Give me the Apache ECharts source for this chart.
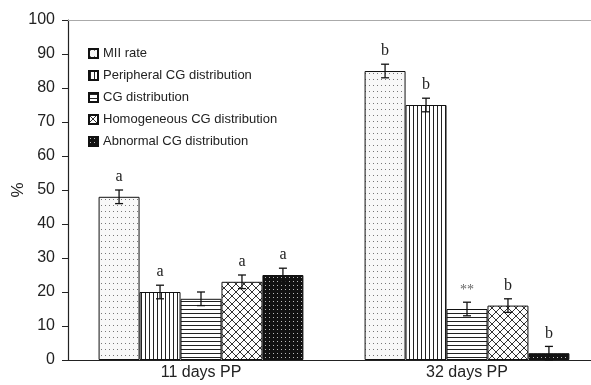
<!DOCTYPE html>
<html>
<head>
    <meta charset="utf-8">
    <title>CG distribution</title>
    <script src="https://cdnjs.cloudflare.com/ajax/libs/echarts/6.0.0/echarts.min.js"></script>
</head>
<body style="margin:0">
<div id="main" style="width: 591px;height: 385px"></div>

<script>
    // data
    let categories = ['11 days PP', '32 days PP'];
    let seriesNames = ['MII rate', 'Peripheral CG distribution', 'CG distribution',
        'Homogeneous CG distribution', 'Abnormal CG distribution'];
    let miiRate = [48, 85];
    let peripheral = [20, 75];
    let cgDist = [18, 15];
    let homogeneous = [23, 16];
    let abnormal = [25, 2];
    let errors = [[2, 2], [2, 2], [2, 2], [2, 2], [2, 2]];
    let letters = [['a', 'b'], ['a', 'b'], ['', '**'], ['a', 'b'], ['a', 'b']];
    let yTicks = [0, 100, 10];

    let values = [miiRate, peripheral, cgDist, homogeneous, abnormal];

    // fill patterns like the printed figure
    function makePattern(w, h, bg, draw) {
        let c = document.createElement('canvas');
        c.width = w;
        c.height = h;
        let ctx = c.getContext('2d');
        ctx.fillStyle = bg;
        ctx.fillRect(0, 0, w, h);
        draw(ctx);
        return {image: c, repeat: 'repeat'};
    }

    let patterns = [
        makePattern(4, 6, '#f8f8f8', function (ctx) {
            ctx.fillStyle = '#777';
            ctx.fillRect(1, 1, 1, 1);
        }),
        makePattern(4, 4, '#fff', function (ctx) {
            ctx.fillStyle = '#222';
            ctx.fillRect(1, 0, 1, 4);
        }),
        makePattern(4, 4, '#fff', function (ctx) {
            ctx.fillStyle = '#222';
            ctx.fillRect(0, 1, 4, 1);
        }),
        makePattern(8, 8, '#fff', function (ctx) {
            ctx.strokeStyle = '#333';
            ctx.lineWidth = 1;
            ctx.beginPath();
            ctx.moveTo(0, 0); ctx.lineTo(8, 8);
            ctx.moveTo(0, 8); ctx.lineTo(8, 0);
            ctx.stroke();
        }),
        makePattern(4, 4, '#111', function (ctx) {
            ctx.fillStyle = '#bbb';
            ctx.fillRect(1, 1, 1, 1);
        })
    ];

    let gapRatio = 0.23;

    let series = seriesNames.map(function (name, i) {
        return {
            name: name,
            type: 'bar',
            data: values[i],
            barGap: '0%',
            barCategoryGap: '23%',
            itemStyle: {color: patterns[i], borderColor: '#111', borderWidth: 1}
        };
    });

    // error bars and significance letters
    let errItems = [];
    values.forEach(function (vals, si) {
        vals.forEach(function (v, ci) {
            errItems.push({value: [ci, v, errors[si][ci], si], label: letters[si][ci]});
        });
    });

    series.push({
        type: 'custom',
        z: 5,
        data: errItems.map(function (d) { return d.value; }),
        encode: {x: 0, y: 1},
        renderItem: function (params, api) {
            let ci = api.value(0), v = api.value(1), e = api.value(2), si = api.value(3);
            let size = api.size([1, 0])[0];
            let bw = size * (1 - gapRatio) / 5;
            let cx = api.coord([ci, 0])[0] + (si - 2) * bw;
            let top = api.coord([ci, v + e])[1];
            let bot = api.coord([ci, Math.max(0, v - e)])[1];
            let st = {stroke: '#111', lineWidth: 1.3};
            let children = [
                {type: 'line', shape: {x1: cx, y1: top, x2: cx, y2: bot}, style: st},
                {type: 'line', shape: {x1: cx - 4, y1: top, x2: cx + 4, y2: top}, style: st},
                {type: 'line', shape: {x1: cx - 4, y1: bot, x2: cx + 4, y2: bot}, style: st}
            ];
            let lab = errItems[params.dataIndex].label;
            if (lab) {
                children.push({
                    type: 'text',
                    style: {
                        text: lab, x: cx, y: top - 5,
                        align: 'center', verticalAlign: 'bottom',
                        font: (lab === '**' ? '14px' : '16px') + ' "Liberation Serif"',
                        fill: lab === '**' ? '#666' : '#222'
                    }
                });
            }
            return {type: 'group', children: children};
        }
    });

    let myChart = echarts.init(document.getElementById('main'));
    myChart.setOption({
        animation: false,
        grid: {left: 68, right: -9, top: 20, bottom: 25, outerBoundsMode: 'none', containLabel: false},
        legend: {
            data: seriesNames,
            orient: 'vertical',
            left: 83,
            top: 42,
            icon: 'rect',
            itemWidth: 9,
            itemHeight: 9,
            itemGap: 9,
            textStyle: {fontFamily: 'Liberation Sans', fontSize: 13, color: '#222'}
        },
        xAxis: [
            {
                type: 'category',
                data: categories,
                axisLine: {lineStyle: {color: '#222', width: 1.2}},
                axisTick: {lineStyle: {color: '#222'}, length: 5},
                axisLabel: {fontFamily: 'Liberation Sans', fontSize: 16, color: '#222', margin: 5}
            },
            {
                type: 'category',
                data: categories,
                position: 'top',
                axisLine: {lineStyle: {color: '#aaa', width: 1.2}},
                axisTick: {show: false},
                axisLabel: {show: false}
            }
        ],
        yAxis: {
            type: 'value',
            min: yTicks[0],
            max: yTicks[1],
            interval: yTicks[2],
            name: '%',
            nameLocation: 'middle',
            nameGap: 41,
            nameRotate: 90,
            nameMoveOverlap: false,
            nameTextStyle: {fontFamily: 'Liberation Sans', fontSize: 17, color: '#222'},
            axisLine: {show: true, lineStyle: {color: '#222', width: 1.2}},
            axisTick: {show: true, length: 6, lineStyle: {color: '#222'}},
            axisLabel: {fontFamily: 'Liberation Sans', fontSize: 16, color: '#222', margin: 13},
            splitLine: {show: false}
        },
        series: series
    });
</script>
</body>
</html>
